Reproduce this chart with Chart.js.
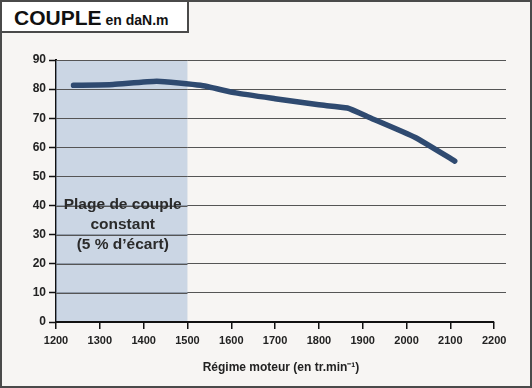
<!DOCTYPE html>
<html>
<head>
<meta charset="utf-8">
<script src="https://cdn.jsdelivr.net/npm/chart.js@4"></script>
<style>
  body { margin: 0; background: #f7f5f3; }
  #wrap { position: relative; width: 532px; height: 388px; background: #f7f5f3; font-family: "Liberation Sans", Arial, sans-serif; }
  #wrap canvas { position: absolute; left: 0; top: 0; }
  #frame { position: absolute; left: 0; top: 0; width: 532px; height: 388px; box-sizing: border-box; border: 2px solid #4a4a4a; pointer-events: none; }
  #titre { position: absolute; left: 0; top: 0; width: 189px; height: 33px; box-sizing: border-box; border: 2px solid #4a4a4a; background: #fff; font-weight: bold; color: #111; padding: 4px 0 0 12px; white-space: nowrap; }
  #titre .big { font-size: 21px; }
  #titre .small { font-size: 14px; margin-left: 4px; }
</style>
</head>
<body>
<div id="wrap">
  <canvas id="chart" width="532" height="388"></canvas>
  <div id="frame"></div>
  <div id="titre"><span class="big">COUPLE</span><span class="small">en daN.m</span></div>
</div>
<script>
// Régime moteur (tr/min) et couple (daN.m)
const regime = [1240, 1330, 1430, 1530, 1610, 1700, 1800, 1865, 1910, 2020, 2110];
const couple = [81.3, 81.6, 82.7, 81.3, 78.7, 76.7, 74.6, 73.5, 70.6, 63.4, 55.3];

// Zone de couple constant
const zoneDebut = 1200;
const zoneFin = 1500;
const zoneTexte = ['Plage de couple', 'constant', '(5 % d\u2019écart)'];

const xMin = 1200, xMax = 2200, xStep = 100;
const yMin = 0, yMax = 90, yStep = 10;

// dessine la zone bleue, le texte et l'axe horizontal
const zonePlugin = {
  id: 'zone',
  beforeDatasetsDraw(chart) {
    const { ctx, scales: { x, y } } = chart;
    const x1 = x.getPixelForValue(zoneDebut), x2 = x.getPixelForValue(zoneFin);
    const yTop = y.getPixelForValue(yMax), yBot = y.getPixelForValue(yMin);
    ctx.save();
    ctx.fillStyle = 'rgba(180,196,220,0.65)';
    ctx.fillRect(x1, yTop, x2 - x1, yBot - yTop);
    // on redessine les lignes de grille par-dessus la zone
    ctx.strokeStyle = '#555';
    ctx.lineWidth = 1;
    for (let v = yMin + yStep; v <= yMax; v += yStep) {
      const py = Math.round(y.getPixelForValue(v)) + 0.5;
      ctx.beginPath(); ctx.moveTo(x1, py); ctx.lineTo(x2, py); ctx.stroke();
    }
    ctx.fillStyle = '#2b2b2b';
    ctx.font = 'bold 15.5px "Liberation Sans", Arial, sans-serif';
    ctx.textAlign = 'center';
    ctx.textBaseline = 'middle';
    const cx = (x1 + x2) / 2 + 1;
    const cy = y.getPixelForValue(40);
    zoneTexte.forEach((t, i) => ctx.fillText(t, cx, cy - 1 + i * 20));
    // axe des abscisses
    ctx.strokeStyle = '#111';
    ctx.lineWidth = 2;
    ctx.beginPath();
    ctx.moveTo(x.getPixelForValue(xMin), yBot);
    ctx.lineTo(x.getPixelForValue(xMax), yBot);
    ctx.stroke();
    ctx.restore();
  }
};

const ctx = document.getElementById('chart').getContext('2d');
new Chart(ctx, {
  type: 'line',
  data: {
    datasets: [{
      data: regime.map((r, i) => ({ x: r, y: couple[i] })),
      borderColor: '#2f4a70',
      borderWidth: 5.5,
      pointRadius: 0,
      tension: 0.15,
      borderCapStyle: 'round',
      borderJoinStyle: 'round',
      fill: false
    }]
  },
  options: {
    responsive: false,
    animation: false,
    layout: { padding: { left: 0, top: 60, right: 26, bottom: 9 } },
    plugins: { legend: { display: false }, tooltip: { enabled: false } },
    scales: {
      x: {
        type: 'linear',
        min: xMin,
        max: xMax + 27,
        afterBuildTicks(scale) {
          const t = [];
          for (let v = xMin; v <= xMax; v += xStep) t.push({ value: v });
          scale.ticks = t;
        },
        afterFit(scale) { scale.height = 57; },
        border: { display: false },
        grid: { drawOnChartArea: false, drawTicks: true, tickLength: 7, color: '#111', lineWidth: 1.5 },
        ticks: {
          color: '#222',
          padding: 5,
          maxRotation: 0,
          font: { family: '"Liberation Sans", Arial, sans-serif', size: 11, weight: 'bold' },
          callback: v => String(v)
        },
        title: {
          display: true,
          text: 'Régime moteur (en tr.min\u207B\u00B9)',
          color: '#222',
          padding: { top: 8 },
          font: { family: '"Liberation Sans", Arial, sans-serif', size: 12, weight: 'bold' }
        }
      },
      y: {
        min: yMin,
        max: yMax,
        afterFit(scale) { scale.width = 56; },
        border: { display: true, color: '#111', width: 2 },
        grid: {
          color: c => c.tick && c.tick.value === 0 ? 'rgba(0,0,0,0)' : '#555',
          lineWidth: 1,
          tickLength: 7,
          tickColor: '#111',
          tickWidth: 1.5
        },
        ticks: {
          stepSize: yStep,
          color: '#222',
          padding: 3,
          font: { family: '"Liberation Sans", Arial, sans-serif', size: 12, weight: 'bold' }
        }
      }
    }
  },
  plugins: [zonePlugin]
});
</script>
</body>
</html>
